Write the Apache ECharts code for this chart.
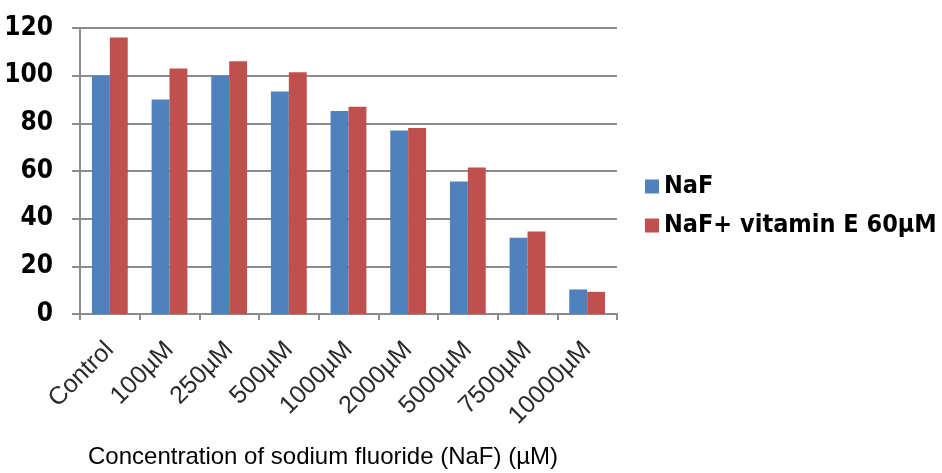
<!DOCTYPE html>
<html>
<head>
<meta charset="utf-8">
<script src="https://cdn.jsdelivr.net/npm/echarts@6/dist/echarts.min.js"></script>
<style>html,body{margin:0;padding:0;background:#fff}#c{width:942px;height:473px}</style>
</head>
<body>
<div id="c"></div>
<script>
const categories = ['Control','100µM','250µM','500µM','1000µM','2000µM','5000µM','7500µM','10000µM'];
const naf = [100, 90, 100, 93.4, 85.2, 77, 55.6, 32, 10.3];
const nafVitE = [116, 103, 106, 101.4, 87, 78, 61.5, 34.6, 9.3];
const yTicks = [0, 20, 40, 60, 80, 100, 120];
const seriesNames = ['NaF', 'NaF+ vitamin E 60µM'];
const xAxisTitle = 'Concentration of sodium fluoride (NaF) (µM)';

const chart = echarts.init(document.getElementById('c'), null, {renderer: 'canvas'});
chart.setOption({
  animation: false,
  backgroundColor: '#fff',
  color: ['#4f81bd', '#c0504d'],
  title: {
    text: xAxisTitle, left: 88, top: 445, padding: 0,
    textStyle: {fontFamily: 'Liberation Sans', fontSize: 24, fontWeight: 'normal', color: '#000'}
  },
  grid: {left: 80, right: 325, top: 28, bottom: 159, containLabel: false},
  legend: {
    orient: 'vertical', left: 645, top: 174, itemGap: 14, padding: 0,
    itemWidth: 14, itemHeight: 14, icon: 'rect',
    data: seriesNames,
    textStyle: {fontFamily: 'DejaVu Sans Condensed', fontWeight: 'bold', fontSize: 25, color: '#000'}
  },
  xAxis: {
    type: 'category', data: categories,
    axisLine: {lineStyle: {color: '#8c8c8c', width: 2}},
    axisTick: {show: true, alignWithLabel: false, length: 6, lineStyle: {color: '#8c8c8c', width: 2}},
    axisLabel: {interval: 0, rotate: 45, fontFamily: 'Liberation Sans', fontSize: 25, color: '#2a2a2a', margin: 32}
  },
  yAxis: {
    type: 'value', min: 0, max: 120, interval: 20,
    axisLine: {show: true, lineStyle: {color: '#8c8c8c', width: 2}},
    axisTick: {show: true, length: 8, lineStyle: {color: '#8c8c8c', width: 2}},
    splitLine: {lineStyle: {color: '#8c8c8c', width: 2}},
    axisLabel: {
      fontFamily: 'DejaVu Sans Condensed', fontWeight: 'bold', fontSize: 26, color: '#000', margin: 27,
      formatter: v => yTicks.includes(v) ? String(v) : ''
    }
  },
  series: [
    {name: seriesNames[0], type: 'bar', data: naf, barGap: '0%', barCategoryGap: '40%'},
    {name: seriesNames[1], type: 'bar', data: nafVitE, barGap: '0%', barCategoryGap: '40%'}
  ]
});
</script>
</body>
</html>
